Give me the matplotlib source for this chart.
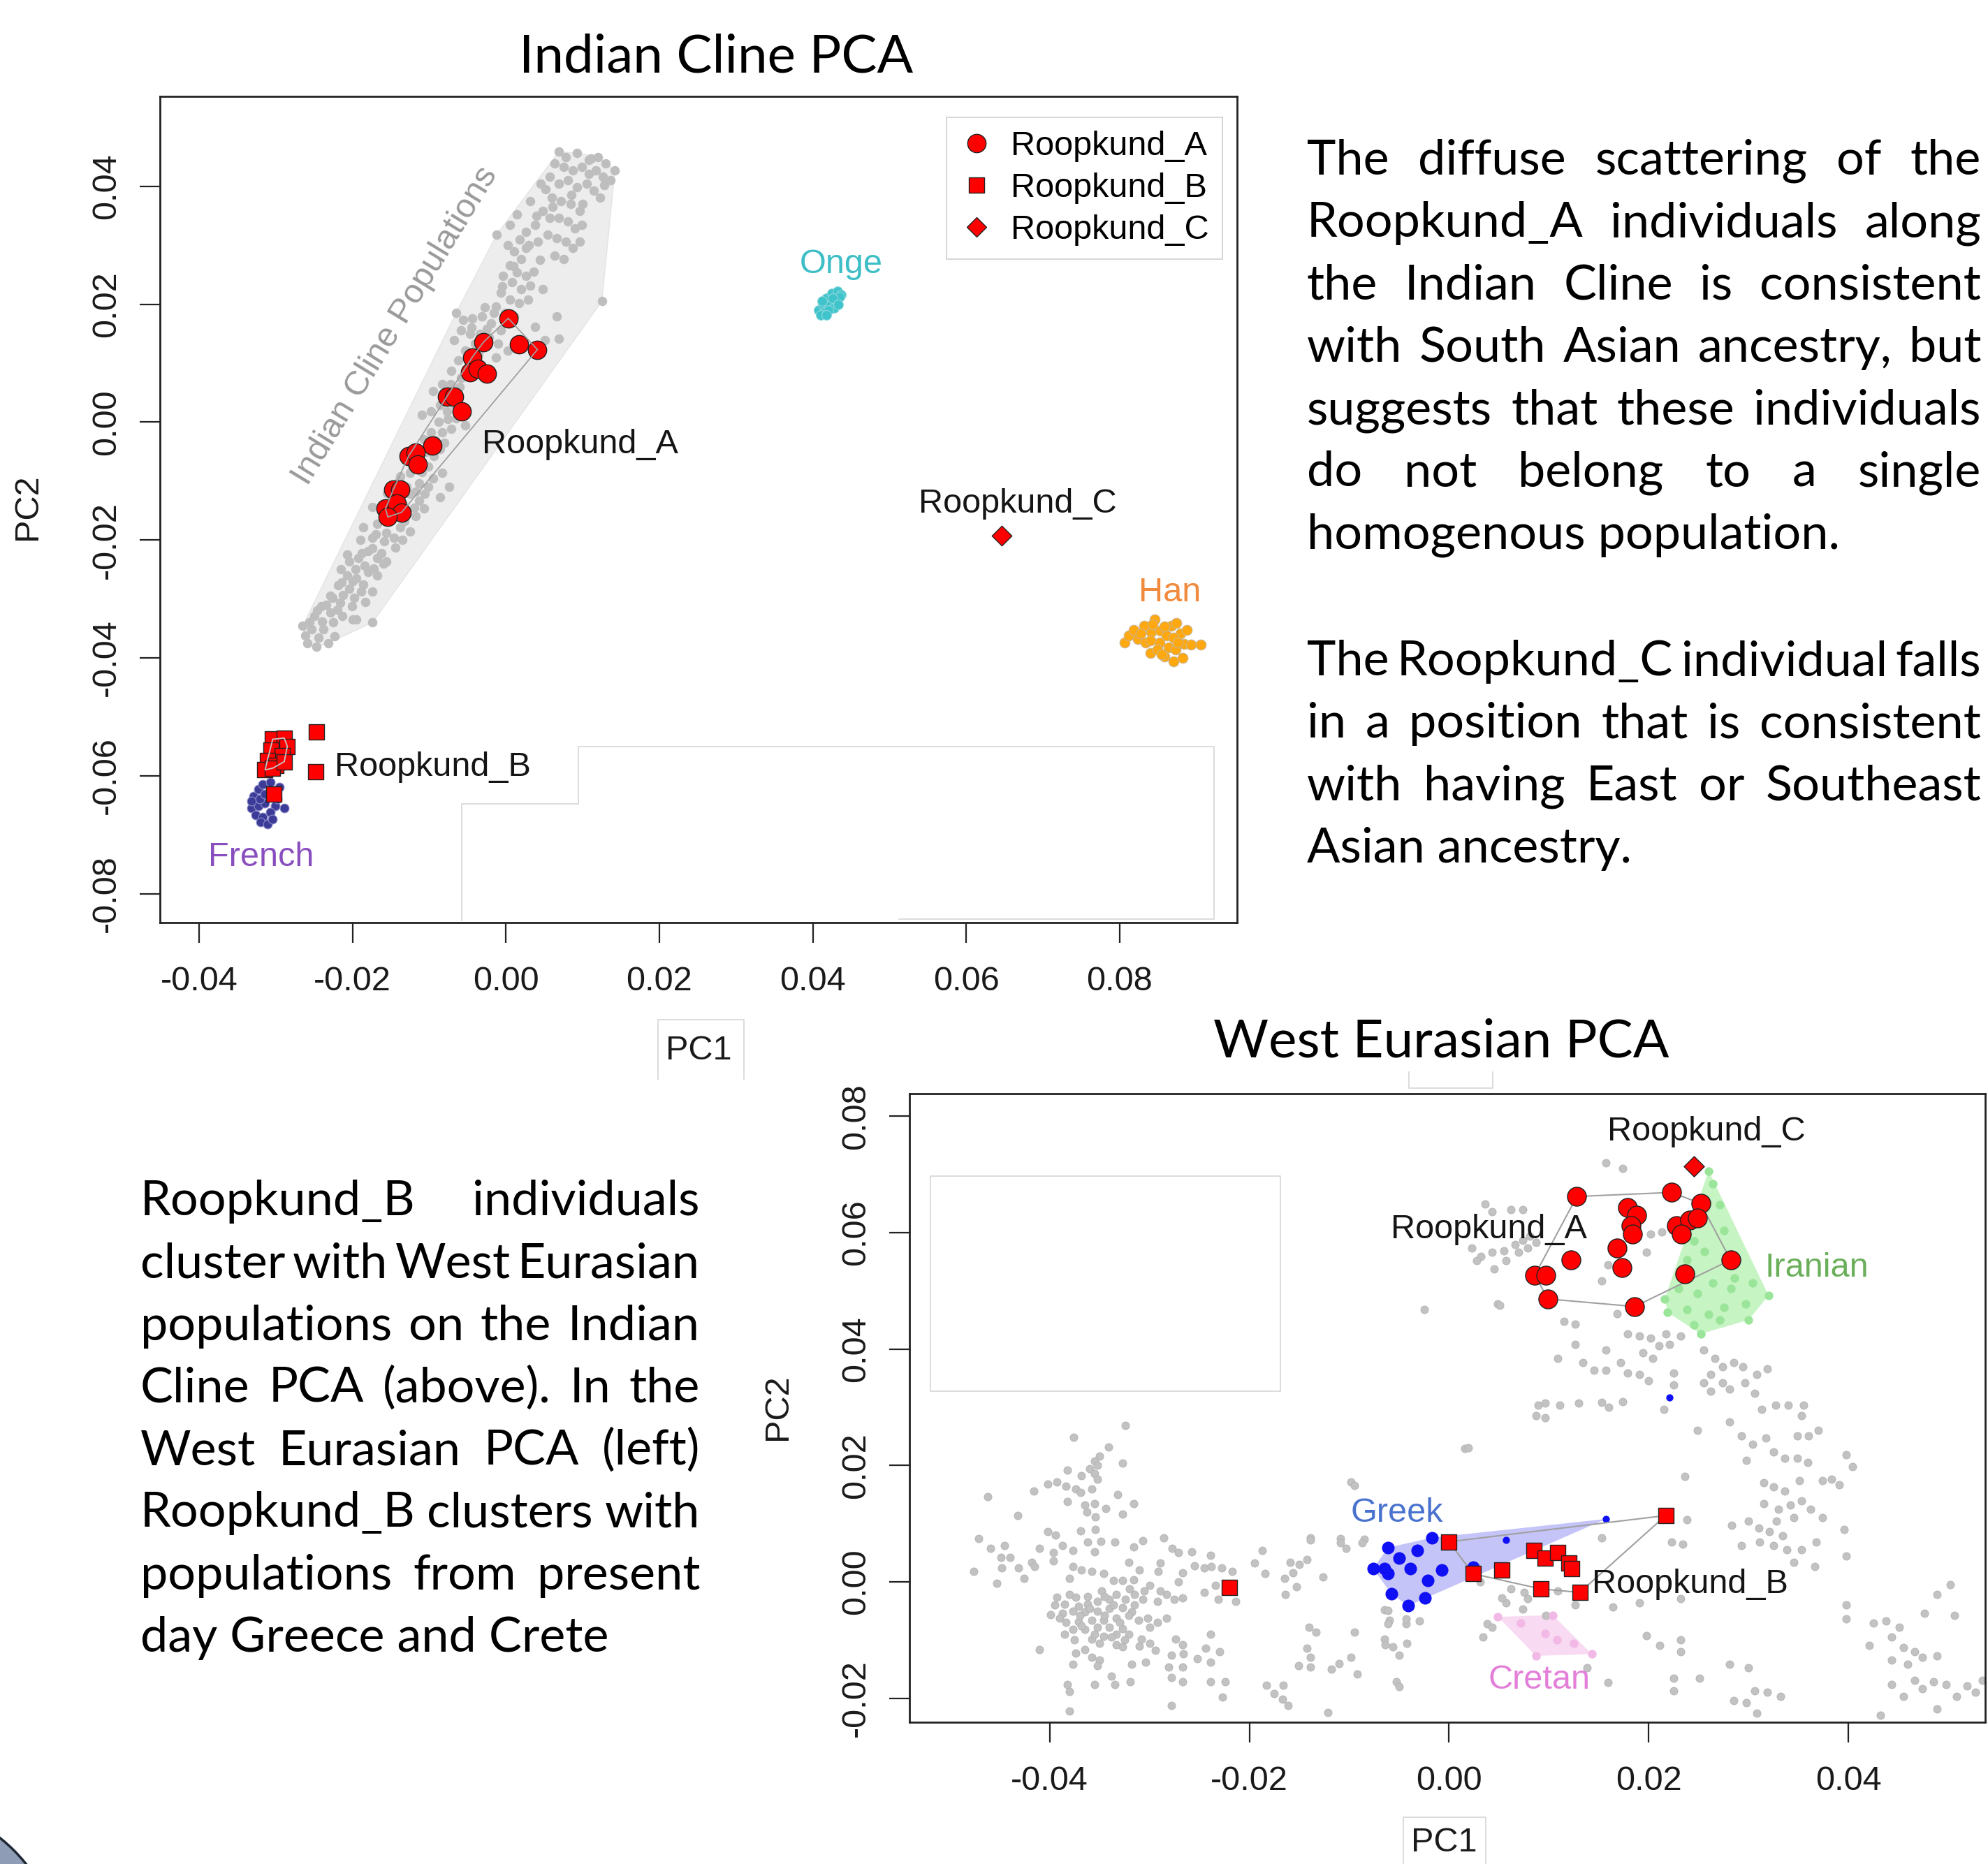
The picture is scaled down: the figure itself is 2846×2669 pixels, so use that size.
import matplotlib
matplotlib.use("Agg")
import matplotlib.pyplot as plt
import numpy as np
from matplotlib.lines import Line2D
from matplotlib.patches import Polygon, Ellipse

W, H = 2846, 2669
plt.rcParams["axes.unicode_minus"] = False
plt.rcParams["font.family"] = ["Liberation Sans", "DejaVu Sans"]
BODY_FONT = ["Lato", "DejaVu Sans"]

# ---------------- Indian Cline PCA ----------------
ic_xticks = [-0.04, -0.02, 0.00, 0.02, 0.04, 0.06, 0.08]
ic_yticks = [-0.08, -0.06, -0.04, -0.02, 0.00, 0.02, 0.04]

ic_gray = [
    (0.0069, 0.0459), (0.0078, 0.0450), (0.0093, 0.0456), (0.0111, 0.0447), (0.0120, 0.0450),
    (0.0130, 0.0439), (0.0142, 0.0427), (0.0063, 0.0439), (0.0075, 0.0433), (0.0087, 0.0427),
    (0.0099, 0.0433), (0.0108, 0.0421), (0.0117, 0.0427), (0.0126, 0.0416), (0.0136, 0.0410),
    (0.0057, 0.0416), (0.0069, 0.0404), (0.0081, 0.0410), (0.0093, 0.0398), (0.0105, 0.0404),
    (0.0114, 0.0393), (0.0123, 0.0381), (0.0045, 0.0404), (0.0060, 0.0381), (0.0072, 0.0375),
    (0.0084, 0.0370), (0.0096, 0.0358), (0.0048, 0.0358), (0.0057, 0.0346), (0.0069, 0.0346),
    (0.0081, 0.0341), (0.0090, 0.0329), (0.0099, 0.0335), (0.0032, 0.0375), (0.0038, 0.0335),
    (0.0026, 0.0323), (0.0042, 0.0306), (0.0054, 0.0318), (0.0066, 0.0312), (0.0078, 0.0306),
    (0.0087, 0.0295), (0.0096, 0.0306), (0.0063, 0.0283), (0.0075, 0.0277), (0.0005, 0.0335),
    (-0.0012, 0.0318), (0.0014, 0.0352), (0.0125, 0.0205),
    (0.0002, 0.0300), (0.0011, 0.0289), (0.0020, 0.0277), (0.0026, 0.0295), (0.0005, 0.0266),
    (0.0014, 0.0254), (0.0026, 0.0248), (-0.0004, 0.0248), (0.0008, 0.0237), (0.0020, 0.0225),
    (0.0032, 0.0231), (0.0048, 0.0225), (-0.0007, 0.0220), (0.0005, 0.0208), (0.0017, 0.0202),
    (0.0029, 0.0208), (-0.0013, 0.0196), (-0.0001, 0.0185), (0.0011, 0.0179), (-0.0065, 0.0185),
    (-0.0056, 0.0173), (-0.0044, 0.0176), (-0.0031, 0.0179), (-0.0019, 0.0168), (-0.0007, 0.0156),
    (-0.0059, 0.0156), (-0.0047, 0.0150), (-0.0034, 0.0150), (-0.0022, 0.0144), (-0.0010, 0.0133),
    (-0.0068, 0.0139), (-0.0053, 0.0121), (-0.0040, 0.0133), (0.0038, 0.0162), (0.0066, 0.0179),
    (0.0069, 0.0142), (0.0051, 0.0139), (0.0002, 0.0121), (-0.0013, 0.0110),
    (-0.0071, 0.0087), (-0.0059, 0.0075), (-0.0083, 0.0064), (-0.0095, 0.0052), (-0.0086, 0.0029),
    (-0.0077, 0.0018), (-0.0065, 0.0006), (-0.0053, -0.0006), (-0.0071, -0.0011), (-0.0098, 0.0018),
    (-0.0110, 0.0012), (-0.0083, -0.0017), (-0.0098, -0.0017), (-0.0107, -0.0029), (-0.0086, -0.0046),
    (-0.0113, -0.0063), (-0.0101, -0.0075), (-0.0083, -0.0086), (-0.0125, -0.0086), (-0.0113, -0.0104),
    (-0.0101, -0.0110), (-0.0138, -0.0092), (-0.0125, -0.0121), (-0.0113, -0.0133), (-0.0074, -0.0110),
    (-0.0086, -0.0127), (-0.0107, -0.0147),
    (-0.0150, -0.0167), (-0.0138, -0.0179), (-0.0125, -0.0185), (-0.0168, -0.0173), (-0.0186, -0.0179),
    (-0.0174, -0.0196), (-0.0159, -0.0202), (-0.0144, -0.0213), (-0.0180, -0.0219), (-0.0168, -0.0231),
    (-0.0156, -0.0236), (-0.0192, -0.0231), (-0.0204, -0.0236), (-0.0180, -0.0254), (-0.0168, -0.0260),
    (-0.0195, -0.0265), (-0.0207, -0.0260), (-0.0219, -0.0277), (-0.0204, -0.0283), (-0.0189, -0.0288),
    (-0.0174, -0.0288), (-0.0229, -0.0294), (-0.0216, -0.0306), (-0.0201, -0.0312), (-0.0241, -0.0312),
    (-0.0229, -0.0323), (-0.0213, -0.0329), (-0.0195, -0.0335), (-0.0174, -0.0340), (-0.0250, -0.0329),
    (-0.0265, -0.0346), (-0.0253, -0.0352), (-0.0238, -0.0352), (-0.0223, -0.0363), (-0.0259, -0.0375),
    (-0.0247, -0.0381), (-0.0232, -0.0375), (-0.0207, -0.0225), (-0.0174, -0.0144),
    (-0.0262, -0.0362), (-0.0244, -0.0366), (-0.0256, -0.0340), (-0.0240, -0.0338), (-0.0225, -0.0340),
    (-0.0246, -0.0320), (-0.0234, -0.0310), (-0.0220, -0.0318), (-0.0226, -0.0298), (-0.0212, -0.0293),
    (-0.0198, -0.0298), (-0.0214, -0.0272), (-0.0200, -0.0270), (-0.0186, -0.0276), (-0.0196, -0.0250),
    (-0.0184, -0.0244), (-0.0172, -0.0248), (-0.0188, -0.0222), (-0.0174, -0.0214), (-0.0162, -0.0222),
    (-0.0170, -0.0190), (-0.0156, -0.0188), (-0.0146, -0.0196), (-0.0160, -0.0165), (-0.0145, -0.0160),
    (-0.0132, -0.0168), (-0.0148, -0.0135), (-0.0134, -0.0140), (-0.0120, -0.0145), (-0.0130, -0.0110),
    (-0.0118, -0.0118), (-0.0106, -0.0122), (-0.0122, -0.0075), (-0.0110, -0.0085), (-0.0095, -0.0095),
    (-0.0104, -0.0050), (-0.0094, -0.0058), (-0.0092, -0.0030), (-0.0080, -0.0035), (-0.0088, 0.0000),
    (-0.0076, 0.0005), (-0.0080, 0.0040), (-0.0068, 0.0030), (-0.0072, 0.0065), (-0.0060, 0.0060),
    (-0.0048, 0.0095), (-0.0062, 0.0105), (-0.0050, 0.0120), (-0.0036, 0.0115), (-0.0045, 0.0160),
    (-0.0025, 0.0158), (-0.0016, 0.0185), (-0.0028, 0.0195), (-0.0005, 0.0230), (0.0010, 0.0265),
    (0.0018, 0.0310), (0.0030, 0.0300), (0.0040, 0.0350), (0.0052, 0.0395), (0.0061, 0.0365),
    (0.0085, 0.0385), (0.0100, 0.0370), (0.0108, 0.0445), (0.0128, 0.0402), (0.0044, 0.0275),
    (0.0036, 0.0255), (-0.0140, -0.0100), (-0.0155, -0.0120), (-0.0190, -0.0200), (-0.0215, -0.0250),
    (-0.0200, -0.0335), (-0.0183, -0.0305), (-0.0160, -0.0240), (-0.0135, -0.0200), (-0.0118, -0.0160),
]

ic_rkA = [
    (0.0003, 0.0176), (-0.0029, 0.0136), (0.0017, 0.0132), (0.0041, 0.0123), (-0.0044, 0.0110),
    (-0.0047, 0.0084), (-0.0037, 0.0090), (-0.0025, 0.0082), (-0.0077, 0.0043), (-0.0068, 0.0043),
    (-0.0058, 0.0018), (-0.0096, -0.0040), (-0.0127, -0.0058), (-0.0118, -0.0052), (-0.0115, -0.0072),
    (-0.0147, -0.0115), (-0.0138, -0.0115), (-0.0157, -0.0147), (-0.0142, -0.0138), (-0.0136, -0.0153),
    (-0.0154, -0.0161),
]
ic_rkB_core = [
    (-0.0304, -0.0538), (-0.0289, -0.0536), (-0.0285, -0.0550), (-0.0306, -0.0556), (-0.0292, -0.0566),
    (-0.0311, -0.0574), (-0.0300, -0.0582), (-0.0314, -0.0590), (-0.0304, -0.0587), (-0.0289, -0.0576),
]
ic_rkB_out = [(-0.0247, -0.0526), (-0.0248, -0.0593), (-0.0303, -0.0631)]
ic_rkC = [(0.0646, -0.0193)]

ic_onge = [
    (0.0408, 0.0190), (0.0413, 0.0200), (0.0418, 0.0210), (0.0425, 0.0218), (0.0432, 0.0222),
    (0.0437, 0.0216), (0.0430, 0.0205), (0.0422, 0.0198), (0.0415, 0.0186), (0.0428, 0.0193),
    (0.0410, 0.0182), (0.0435, 0.0212), (0.0420, 0.0190), (0.0426, 0.0210), (0.0412, 0.0205),
    (0.0433, 0.0200), (0.0418, 0.0182),
]
ic_han = [
    (0.0806, -0.0374), (0.0812, -0.0362), (0.0818, -0.0353), (0.0824, -0.0368), (0.0832, -0.0345),
    (0.0841, -0.0356), (0.0846, -0.0335), (0.0853, -0.0354), (0.0843, -0.0343), (0.0852, -0.0374),
    (0.0861, -0.0362), (0.0867, -0.0345), (0.0874, -0.0341), (0.0879, -0.0358), (0.0887, -0.0353),
    (0.0884, -0.0376), (0.0893, -0.0378), (0.0906, -0.0378), (0.0840, -0.0392), (0.0858, -0.0398),
    (0.0870, -0.0406), (0.0882, -0.0400), (0.0834, -0.0374), (0.0864, -0.0382), (0.0873, -0.0386),
    (0.0849, -0.0386), (0.0827, -0.0358), (0.0858, -0.0347), (0.0840, -0.0370), (0.0870, -0.0366),
    (0.0876, -0.0374), (0.0855, -0.0394),
]
ic_french = [
    (-0.0329, -0.0635), (-0.0323, -0.0623), (-0.0317, -0.0615), (-0.0307, -0.0611), (-0.0295, -0.0619),
    (-0.0332, -0.0655), (-0.0323, -0.0651), (-0.0314, -0.0647), (-0.0301, -0.0651), (-0.0289, -0.0655),
    (-0.0326, -0.0667), (-0.0317, -0.0670), (-0.0307, -0.0662), (-0.0320, -0.0678), (-0.0311, -0.0682),
    (-0.0304, -0.0674), (-0.0332, -0.0643), (-0.0321, -0.0639), (-0.0298, -0.0639), (-0.0314, -0.0631),
]

# ---------------- West Eurasian PCA ----------------
we_xticks = [-0.04, -0.02, 0.00, 0.02, 0.04]
we_yticks = [-0.02, 0.00, 0.02, 0.04, 0.06, 0.08]

we_gray = [
    (-0.0324, 0.0269), (-0.0376, 0.0248), (-0.0341, 0.0232), (-0.0350, 0.0216), (-0.0355, 0.0208),
    (-0.0327, 0.0204), (-0.0352, 0.0200), (-0.0360, 0.0194), (-0.0382, 0.0192), (-0.0355, 0.0186),
    (-0.0368, 0.0182), (-0.0352, 0.0176), (-0.0402, 0.0168), (-0.0393, 0.0172), (-0.0384, 0.0164),
    (-0.0374, 0.0160), (-0.0369, 0.0154), (-0.0358, 0.0160), (-0.0416, 0.0156), (-0.0332, 0.0150),
    (-0.0462, 0.0146), (-0.0382, 0.0138), (-0.0365, 0.0132), (-0.0355, 0.0134), (-0.0344, 0.0126),
    (-0.0316, 0.0134), (-0.0363, 0.0120), (-0.0354, 0.0112), (-0.0327, 0.0116), (-0.0432, 0.0114),
    (-0.0471, 0.0074), (-0.0402, 0.0087), (-0.0394, 0.0080), (-0.0369, 0.0088), (-0.0354, 0.0090),
    (-0.0349, 0.0070), (-0.0362, 0.0068), (-0.0335, 0.0068), (-0.0307, 0.0071), (-0.0286, 0.0076),
    (-0.0459, 0.0058), (-0.0445, 0.0062), (-0.0449, 0.0042), (-0.0440, 0.0042), (-0.0410, 0.0058),
    (-0.0396, 0.0050), (-0.0387, 0.0062), (-0.0377, 0.0054), (-0.0355, 0.0052), (-0.0316, 0.0060),
    (-0.0277, 0.0058), (-0.0271, 0.0050), (-0.0258, 0.0052), (-0.0239, 0.0046), (-0.0187, 0.0054),
    (-0.0139, 0.0076), (-0.0109, 0.0074), (-0.0085, 0.0073), (-0.0103, 0.0058), (-0.0098, 0.0172),
    (-0.0476, 0.0018), (-0.0448, 0.0024), (-0.0431, 0.0024), (-0.0418, 0.0034), (-0.0415, 0.0026),
    (-0.0426, 0.0006), (-0.0453, -0.0002), (-0.0396, 0.0036), (-0.0377, 0.0026), (-0.0380, 0.0006),
    (-0.0368, 0.0020), (-0.0358, 0.0018), (-0.0346, 0.0014), (-0.0336, 0.0002), (-0.0327, 0.0002),
    (-0.0321, 0.0034), (-0.0310, 0.0020), (-0.0316, 0.0004), (-0.0289, 0.0032), (-0.0291, 0.0018),
    (-0.0267, 0.0016), (-0.0271, 0.0000), (-0.0255, 0.0028), (-0.0245, 0.0024), (-0.0238, 0.0026),
    (-0.0228, 0.0024), (-0.0217, 0.0018), (-0.0234, -0.0006), (-0.0195, 0.0032), (-0.0184, 0.0014),
    (-0.0159, 0.0034), (-0.0150, 0.0030), (-0.0142, 0.0038), (-0.0165, 0.0006), (-0.0156, 0.0016),
    (-0.0126, 0.0008), (-0.0153, -0.0008), (-0.0164, -0.0022),
    (-0.0393, -0.0026), (-0.0380, -0.0022), (-0.0374, -0.0026), (-0.0385, -0.0038), (-0.0371, -0.0042),
    (-0.0362, -0.0038), (-0.0352, -0.0034), (-0.0340, -0.0030), (-0.0333, -0.0022), (-0.0324, -0.0030),
    (-0.0315, -0.0022), (-0.0305, -0.0016), (-0.0300, -0.0006), (-0.0289, -0.0016), (-0.0283, -0.0022),
    (-0.0275, -0.0030), (-0.0267, -0.0028), (-0.0292, -0.0034), (-0.0307, -0.0030), (-0.0245, -0.0018),
    (-0.0231, -0.0030), (-0.0214, -0.0034),
    (-0.0399, -0.0056), (-0.0387, -0.0054), (-0.0377, -0.0050), (-0.0365, -0.0052), (-0.0352, -0.0050),
    (-0.0340, -0.0046), (-0.0327, -0.0044), (-0.0318, -0.0052), (-0.0384, -0.0070), (-0.0371, -0.0068),
    (-0.0358, -0.0066), (-0.0346, -0.0066), (-0.0333, -0.0062), (-0.0321, -0.0058), (-0.0311, -0.0066),
    (-0.0302, -0.0062), (-0.0292, -0.0070), (-0.0283, -0.0062), (-0.0377, -0.0082), (-0.0365, -0.0082),
    (-0.0352, -0.0078), (-0.0340, -0.0078), (-0.0327, -0.0080), (-0.0385, -0.0090), (-0.0358, -0.0098),
    (-0.0346, -0.0094), (-0.0333, -0.0090), (-0.0321, -0.0090), (-0.0308, -0.0098), (-0.0300, -0.0106),
    (-0.0294, -0.0118), (-0.0333, -0.0108), (-0.0327, -0.0112),
    (-0.0360, -0.0045), (-0.0345, -0.0058), (-0.0330, -0.0070), (-0.0315, -0.0040), (-0.0370, -0.0058),
    (-0.0355, -0.0090), (-0.0338, -0.0095), (-0.0362, -0.0025), (-0.0348, -0.0015), (-0.0320, -0.0012),
    (-0.0395, -0.0040), (-0.0300, -0.0078), (-0.0368, -0.0075), (-0.0336, -0.0040), (-0.0350, -0.0105),
    (-0.0375, -0.0100), (-0.0310, -0.0110), (-0.0390, -0.0062), (-0.0345, -0.0025), (-0.0325, -0.0100),
    (-0.0410, -0.0116), (-0.0374, -0.0122), (-0.0365, -0.0116), (-0.0358, -0.0130), (-0.0377, -0.0142),
    (-0.0350, -0.0134), (-0.0352, -0.0144), (-0.0318, -0.0142), (-0.0304, -0.0138), (-0.0274, -0.0098),
    (-0.0267, -0.0108), (-0.0266, -0.0124), (-0.0278, -0.0126), (-0.0281, -0.0146), (-0.0267, -0.0146),
    (-0.0239, -0.0090), (-0.0244, -0.0114), (-0.0230, -0.0120), (-0.0252, -0.0132), (-0.0239, -0.0138),
    (-0.0140, -0.0078), (-0.0133, -0.0086), (-0.0095, -0.0086), (-0.0142, -0.0114), (-0.0139, -0.0130),
    (-0.0151, -0.0144), (-0.0139, -0.0146), (-0.0118, -0.0150), (-0.0110, -0.0140), (-0.0098, -0.0130),
    (-0.0092, -0.0158), (-0.0065, -0.0048), (-0.0060, -0.0066), (-0.0065, -0.0098), (-0.0056, -0.0112),
    (-0.0382, -0.0176), (-0.0380, -0.0188), (-0.0355, -0.0176), (-0.0338, -0.0162), (-0.0335, -0.0176),
    (-0.0319, -0.0172), (-0.0278, -0.0164), (-0.0267, -0.0172), (-0.0239, -0.0172), (-0.0224, -0.0172),
    (-0.0227, -0.0198), (-0.0183, -0.0178), (-0.0166, -0.0178), (-0.0175, -0.0192), (-0.0167, -0.0202),
    (-0.0161, -0.0212), (-0.0278, -0.0212), (-0.0380, -0.0222), (-0.0121, -0.0224), (-0.0053, -0.0172),
    (-0.0139, 0.0072), (-0.0109, 0.0067), (-0.0095, 0.0166), (-0.0087, 0.0067), (-0.0061, -0.0049),
    (-0.0061, -0.0072), (-0.0043, -0.0072), (-0.0064, -0.0108), (-0.0050, -0.0126), (-0.0050, -0.0180),
    (0.0016, 0.0229), (0.0038, -0.0072), (0.0057, -0.0036), (0.0049, 0.0477), (0.0097, -0.0058),
    (0.0031, 0.0000), (0.0053, -0.0027), (0.0075, -0.0018),
    (0.0157, 0.0720), (0.0174, 0.0710), (0.0036, 0.0649), (0.0043, 0.0636), (0.0062, 0.0639),
    (0.0074, 0.0639), (0.0023, 0.0573), (0.0032, 0.0559), (0.0043, 0.0566), (0.0055, 0.0569),
    (0.0066, 0.0580), (0.0074, 0.0587), (0.0081, 0.0594), (0.0070, 0.0566), (0.0045, 0.0538),
    (0.0057, 0.0552), (0.0028, 0.0552), (0.0079, 0.0573), (0.0087, 0.0583), (0.0198, 0.0566),
    (0.0202, 0.0597), (0.0213, 0.0601), (0.0153, 0.0517), (0.0159, 0.0545), (-0.0025, 0.0468),
    (0.0051, 0.0475), (0.0168, 0.0461), (0.0115, 0.0447), (0.0126, 0.0443), (0.0179, 0.0426),
    (0.0191, 0.0422), (0.0202, 0.0419), (0.0217, 0.0426), (0.0232, 0.0422), (0.0126, 0.0408),
    (0.0157, 0.0398), (0.0194, 0.0394), (0.0210, 0.0405), (0.0221, 0.0408), (0.0109, 0.0384),
    (0.0134, 0.0377), (0.0145, 0.0363), (0.0157, 0.0363), (0.0172, 0.0377), (0.0179, 0.0359),
    (0.0191, 0.0356), (0.0200, 0.0345), (0.0204, 0.0384), (0.0225, 0.0359), (0.0225, 0.0338),
    (0.0255, 0.0398), (0.0266, 0.0384), (0.0274, 0.0370), (0.0285, 0.0377), (0.0294, 0.0370),
    (0.0262, 0.0356), (0.0255, 0.0342), (0.0274, 0.0342), (0.0281, 0.0331), (0.0262, 0.0328),
    (0.0296, 0.0342), (0.0308, 0.0356), (0.0319, 0.0366), (0.0306, 0.0324), (0.0089, 0.0303),
    (0.0096, 0.0307), (0.0111, 0.0303), (0.0130, 0.0307), (0.0153, 0.0308), (0.0160, 0.0300),
    (0.0174, 0.0310), (0.0215, 0.0296), (0.0087, 0.0286), (0.0096, 0.0282), (0.0019, 0.0230),
    (0.0249, 0.0261), (0.0281, 0.0275), (0.0293, 0.0251), (0.0304, 0.0237), (0.0317, 0.0247),
    (0.0313, 0.0296), (0.0327, 0.0303), (0.0340, 0.0303), (0.0355, 0.0303), (0.0353, 0.0286),
    (0.0349, 0.0251), (0.0360, 0.0251), (0.0370, 0.0261), (0.0298, 0.0209), (0.0325, 0.0223),
    (0.0336, 0.0212), (0.0349, 0.0212), (0.0359, 0.0205), (0.0398, 0.0219), (0.0404, 0.0198),
    (0.0236, 0.0181), (0.0315, 0.0170), (0.0325, 0.0163), (0.0336, 0.0156), (0.0351, 0.0174),
    (0.0374, 0.0174), (0.0383, 0.0177), (0.0391, 0.0167), (0.0315, 0.0135), (0.0330, 0.0125),
    (0.0342, 0.0132), (0.0353, 0.0139), (0.0362, 0.0125), (0.0374, 0.0111), (0.0345, 0.0111),
    (0.0328, 0.0104), (0.0300, 0.0104), (0.0310, 0.0093), (0.0321, 0.0086), (0.0334, 0.0079),
    (0.0283, 0.0097), (0.0293, 0.0062), (0.0311, 0.0069), (0.0325, 0.0062), (0.0338, 0.0055),
    (0.0353, 0.0055), (0.0368, 0.0069), (0.0345, 0.0034), (0.0398, 0.0044), (0.0396, 0.0090),
    (0.0366, 0.0027), (0.0238, 0.0107), (0.0223, 0.0069), (0.0234, 0.0065), (0.0153, 0.0076),
    (0.0164, -0.0043), (0.0191, -0.0036), (0.0232, -0.0029), (0.0398, -0.0039), (0.0398, -0.0064),
    (0.0425, -0.0071), (0.0438, -0.0067), (0.0451, -0.0078), (0.0443, -0.0095), (0.0455, -0.0113),
    (0.0466, -0.0120), (0.0443, -0.0134), (0.0459, -0.0141), (0.0474, -0.0130), (0.0489, -0.0127),
    (0.0421, -0.0109), (0.0443, -0.0176), (0.0466, -0.0169), (0.0474, -0.0183), (0.0485, -0.0172),
    (0.0498, -0.0176), (0.0489, -0.0022), (0.0502, -0.0005), (0.0476, -0.0054), (0.0506, -0.0057),
    (0.0519, -0.0179), (0.0534, -0.0169), (0.0527, -0.0190), (0.0508, -0.0197), (0.0489, -0.0218),
    (0.0455, -0.0197), (0.0432, -0.0229), (0.0198, -0.0092), (0.0211, -0.0109), (0.0232, -0.0099),
    (0.0232, -0.0120), (0.0281, -0.0141), (0.0300, -0.0148), (0.0225, -0.0166), (0.0251, -0.0166),
    (0.0225, -0.0187), (0.0306, -0.0187), (0.0319, -0.0190), (0.0332, -0.0197), (0.0285, -0.0204),
    (0.0298, -0.0208), (0.0308, -0.0225), (-0.0043, -0.0064), (-0.0030, -0.0067), (-0.0042, -0.0106),
    (0.0043, -0.0078), (0.0034, -0.0095), (0.0074, -0.0047), (0.0159, -0.0173), (0.0138, -0.0148),
    (0.0126, -0.0040), (0.0062, -0.0012), (0.0079, -0.0029), (0.0109, -0.0015),
]

we_rkA = [
    (0.0128, 0.0662), (0.0223, 0.0669), (0.0179, 0.0643), (0.0188, 0.0630), (0.0252, 0.0650),
    (0.0228, 0.0612), (0.0241, 0.0621), (0.0249, 0.0625), (0.0233, 0.0598), (0.0182, 0.0612),
    (0.0184, 0.0598), (0.0168, 0.0574), (0.0282, 0.0553), (0.0122, 0.0553), (0.0086, 0.0527),
    (0.0097, 0.0527), (0.0173, 0.0540), (0.0236, 0.0529), (0.0099, 0.0486), (0.0186, 0.0473),
]
we_rkB = [
    (0.0000, 0.0069), (0.0024, 0.0014), (0.0053, 0.0020), (0.0085, 0.0054), (0.0096, 0.0041),
    (0.0109, 0.0050), (0.0120, 0.0032), (0.0123, 0.0023), (0.0092, -0.0012), (0.0131, -0.0018),
    (0.0217, 0.0114),
]
we_rkB_out = [(-0.0220, -0.0010)]
we_rkC = [(0.0245, 0.0714)]

we_iranian = [
    (0.0260, 0.0706), (0.0264, 0.0684), (0.0271, 0.0648), (0.0275, 0.0603), (0.0245, 0.0585),
    (0.0256, 0.0567), (0.0238, 0.0553), (0.0286, 0.0522), (0.0304, 0.0513), (0.0320, 0.0492),
    (0.0297, 0.0477), (0.0275, 0.0472), (0.0260, 0.0459), (0.0238, 0.0468), (0.0219, 0.0463),
    (0.0245, 0.0441), (0.0252, 0.0426), (0.0271, 0.0450), (0.0300, 0.0450), (0.0282, 0.0504),
    (0.0264, 0.0513), (0.0230, 0.0504), (0.0216, 0.0486), (0.0249, 0.0495),
]
we_greek = [
    (-0.0076, 0.0023), (-0.0061, 0.0059), (-0.0050, 0.0041), (-0.0032, 0.0054), (-0.0017, 0.0076),
    (-0.0065, 0.0023), (-0.0039, 0.0023), (-0.0007, 0.0020), (-0.0061, 0.0014), (-0.0021, 0.0002),
    (-0.0058, -0.0020), (-0.0024, -0.0027), (-0.0041, -0.0041), (0.0024, 0.0025),
]
we_greek_small = [(0.0057, 0.0072), (0.0157, 0.0108), (0.0221, 0.0317)]
we_cretan = [
    (0.0049, -0.0060), (0.0104, -0.0057), (0.0143, -0.0124), (0.0087, -0.0127),
    (0.0072, -0.0071), (0.0125, -0.0106), (0.0096, -0.0089), (0.0108, -0.0099),
]

text_top = [
    ["The diffuse scattering of the",
     "Roopkund_A individuals along",
     "the Indian Cline is consistent",
     "with South Asian ancestry, but",
     "suggests that these individuals",
     "do not belong to a single",
     "homogenous population."],
    ["The Roopkund_C individual falls",
     "in a position that is consistent",
     "with having East or Southeast",
     "Asian ancestry."],
]
text_bottom = [
    "Roopkund_B individuals",
    "cluster with West Eurasian",
    "populations on the Indian",
    "Cline PCA (above). In the",
    "West Eurasian PCA (left)",
    "Roopkund_B clusters with",
    "populations from present",
    "day Greece and Crete",
]


def hull(points):
    pts = sorted(set(points))
    if len(pts) < 3:
        return pts

    def cross(o, a, b):
        return (a[0] - o[0]) * (b[1] - o[1]) - (a[1] - o[1]) * (b[0] - o[0])

    lower, upper = [], []
    for p in pts:
        while len(lower) >= 2 and cross(lower[-2], lower[-1], p) <= 0:
            lower.pop()
        lower.append(p)
    for p in reversed(pts):
        while len(upper) >= 2 and cross(upper[-2], upper[-1], p) <= 0:
            upper.pop()
        upper.append(p)
    return lower[:-1] + upper[:-1]


def xy(points):
    a = np.array(points)
    return a[:, 0], a[:, 1]


def fig_line(fig, xs, ys, color="#D9D9D9"):
    fig.add_artist(Line2D(np.array(xs) / W, 1 - np.array(ys) / H, color=color, lw=1.3))


def style_axes(ax, xticks, yticks):
    for sp in ax.spines.values():
        sp.set_linewidth(2.0)
        sp.set_color("#222222")
    ax.set_xticks(xticks)
    ax.set_xticklabels([f"{v:.2f}" for v in xticks])
    ax.set_yticks(yticks)
    ax.set_yticklabels([f"{v:.2f}" for v in yticks], rotation=90, va="center")
    ax.tick_params(direction="out", length=21, width=1.6, color="#222222",
                   labelsize=35, labelcolor="#1a1a1a")
    ax.tick_params(axis="x", pad=24)
    ax.tick_params(axis="y", pad=18)


fig = plt.figure(figsize=(W / 100, H / 100), dpi=100, facecolor="white")
rend = fig.canvas.get_renderer()

# ---- top panel ----
ax1 = fig.add_axes([229 / W, 1 - 1321 / H, (1771 - 229) / W, (1321 - 137.6) / H])
ax1.set_xlim(-0.0451, 0.0953)
ax1.set_ylim(-0.0849, 0.0553)
style_axes(ax1, ic_xticks, ic_yticks)

ax1.add_patch(Polygon(hull(ic_gray), closed=True, fc="#EDEDED", ec="#E4E4E4", lw=1, zorder=1))
gx, gy = xy(ic_gray)
ax1.scatter(gx, gy, s=95, c="#BEBEBE", linewidths=0, zorder=2)

ox, oy = xy(ic_onge)
ax1.scatter(ox, oy, s=100, c="#3FC4CB", edgecolors="#8FD8DC", linewidths=0.8, zorder=3)
hx, hy = xy(ic_han)
ax1.scatter(hx, hy, s=110, c="#FFA80F", edgecolors="#C9B48E", linewidths=0.8, zorder=3)
fx, fy = xy(ic_french)
ax1.scatter(fx, fy, s=85, c="#3C3C98", edgecolors="#8A8AC8", linewidths=0.8, zorder=3)

ax_, ay_ = xy(ic_rkA)
ax1.scatter(ax_, ay_, s=360, marker="o", c="#FF0000", edgecolors="#222222", linewidths=1.0, zorder=5)
ax1.add_patch(Polygon(hull(ic_rkA), closed=True, fill=False, ec="#A0A0A0", lw=1.3, zorder=6))
bx, by = xy(ic_rkB_core + ic_rkB_out)
ax1.scatter(bx, by, s=260, marker="s", c="#FF0000", edgecolors="#222222", linewidths=1.0, zorder=5)
ax1.add_patch(Polygon(hull(ic_rkB_core), closed=True, fill=False, ec="#C8C8C8", lw=1.3, zorder=6))
cx, cy = xy(ic_rkC)
ax1.scatter(cx, cy, s=210, marker="D", c="#FF0000", edgecolors="#222222", linewidths=1.0, zorder=5)

ax1.text(-0.0144, 0.0163, "Indian Cline Populations", rotation=58.7, rotation_mode="anchor",
         ha="center", va="center", fontsize=35, color="#9A9A9A", zorder=7)
ax1.text(-0.0031, -0.0053, "Roopkund_A", fontsize=35, ha="left", va="baseline", color="#151515", zorder=7)
ax1.text(-0.0223, -0.0600, "Roopkund_B", fontsize=35, ha="left", va="baseline", color="#151515", zorder=7)
ax1.text(0.0667, -0.0153, "Roopkund_C", fontsize=35, ha="center", va="baseline", color="#151515", zorder=7)
ax1.text(0.0437, 0.0253, "Onge", fontsize=35, ha="center", va="baseline", color="#3DBEC7", zorder=7)
ax1.text(0.0865, -0.0304, "Han", fontsize=35, ha="center", va="baseline", color="#F08A3C", zorder=7)
ax1.text(-0.0319, -0.0753, "French", fontsize=35, ha="center", va="baseline", color="#8A4FBE", zorder=7)

handles = [
    Line2D([], [], ls="none", marker="o", ms=19, mfc="#FF0000", mec="#222222", mew=1.0),
    Line2D([], [], ls="none", marker="s", ms=16, mfc="#FF0000", mec="#222222", mew=1.0),
    Line2D([], [], ls="none", marker="D", ms=14, mfc="#FF0000", mec="#222222", mew=1.0),
]
leg = ax1.legend(handles, ["Roopkund_A", "Roopkund_B", "Roopkund_C"], loc="upper right",
                 bbox_to_anchor=(1750 / W, 1 - 168 / H), bbox_transform=fig.transFigure,
                 borderaxespad=0, fancybox=False, fontsize=35, handlelength=1.0,
                 handletextpad=0.5, labelspacing=0.3, borderpad=0.4, edgecolor="#D0D0D0",
                 framealpha=1)
leg.get_frame().set_linewidth(1.2)
leg.set_zorder(8)

# ---- bottom panel ----
ax2 = fig.add_axes([1302 / W, 1 - 2465.5 / H, (2842 - 1302) / W, (2465.5 - 1566) / H])
ax2.set_xlim(-0.05404, 0.0537)
ax2.set_ylim(-0.02404, 0.08386)
style_axes(ax2, we_xticks, we_yticks)

wx, wy = xy(we_gray)
ax2.scatter(wx, wy, s=64, c="#C2C2C2", edgecolors="#B3B3B3", linewidths=0.6, zorder=2)

ax2.add_patch(Polygon(hull(we_greek + we_greek_small[:2]), closed=True, fc="#C4C4F8", ec="none", zorder=1.5))
ax2.add_patch(Polygon(hull(we_iranian), closed=True, fc="#C6F4C2", ec="none", zorder=1.5))
ax2.add_patch(Polygon(hull(we_cretan[:4]), closed=True, fc="#F9DAF3", ec="none", zorder=1.5))

ix, iy = xy(we_iranian)
ax2.scatter(ix, iy, s=80, c="#9BE59B", linewidths=0, zorder=3)
ktx, kty = xy(we_cretan)
ax2.scatter(ktx, kty, s=80, c="#F2B8E6", linewidths=0, zorder=3)
grx, gry = xy(we_greek)
ax2.scatter(grx, gry, s=170, c="#1010F5", linewidths=0, zorder=3)
gsx, gsy = xy(we_greek_small)
ax2.scatter(gsx, gsy, s=55, c="#1010F5", linewidths=0, zorder=3)

wax, way = xy(we_rkA)
ax2.scatter(wax, way, s=380, marker="o", c="#FF0000", edgecolors="#222222", linewidths=1.0, zorder=5)
ax2.add_patch(Polygon(hull(we_rkA), closed=True, fill=False, ec="#A0A0A0", lw=1.5, zorder=4))
wbx, wby = xy(we_rkB + we_rkB_out)
ax2.scatter(wbx, wby, s=260, marker="s", c="#FF0000", edgecolors="#222222", linewidths=1.0, zorder=5)
ax2.add_patch(Polygon(hull(we_rkB), closed=True, fill=False, ec="#A0A0A0", lw=1.5, zorder=4))
wcx, wcy = xy(we_rkC)
ax2.scatter(wcx, wcy, s=220, marker="D", c="#FF0000", edgecolors="#222222", linewidths=1.0, zorder=5)

ax2.text(0.0258, 0.0758, "Roopkund_C", fontsize=35, ha="center", va="baseline", color="#151515", zorder=7)
ax2.text(0.0138, 0.0590, "Roopkund_A", fontsize=35, ha="right", va="baseline", color="#151515", zorder=7)
ax2.text(0.0316, 0.0524, "Iranian", fontsize=35, ha="left", va="baseline", color="#6BAF5B", zorder=7)
ax2.text(0.0143, -0.0019, "Roopkund_B", fontsize=35, ha="left", va="baseline", color="#151515", zorder=7)
ax2.text(0.0090, -0.0183, "Cretan", fontsize=35, ha="center", va="baseline", color="#E37FD8", zorder=7)
ax2.text(-0.0052, 0.0103, "Greek", fontsize=35, ha="center", va="baseline", color="#4A73CF", zorder=7)

# ---- axis labels ----
fig.text(1000 / W, 1 - 1517 / H, "PC1", fontsize=35, ha="center", va="baseline", color="#1a1a1a")
fig.text(40 / W, 1 - 726 / H, "PC2", fontsize=35, rotation=90, ha="center", va="center", color="#1a1a1a")
fig.text(2067 / W, 1 - 2651 / H, "PC1", fontsize=35, ha="center", va="baseline", color="#1a1a1a")
fig.text(1114 / W, 1 - 2015 / H, "PC2", fontsize=35, rotation=90, ha="center", va="center", color="#1a1a1a")

# leftover frames from the slide composition
fig_line(fig, [661, 661, 828, 828, 1738, 1738, 1287], [1318, 1151, 1151, 1069, 1069, 1316, 1316])
fig_line(fig, [942, 942, 1065, 1065], [1545, 1460, 1460, 1545])
fig_line(fig, [2009, 2009, 2127, 2127], [2669, 2602, 2602, 2669])
fig_line(fig, [2017, 2017, 2137, 2137], [1535, 1558, 1558, 1535])
fig_line(fig, [1332, 1833, 1833, 1332, 1332], [1684, 1684, 1992, 1992, 1684])

fig.add_artist(Ellipse((-150 / W, 1 - 2819 / H), 480 / W, 480 / H, transform=fig.transFigure,
                       fc="#8E9DB5", ec="#1E2633", lw=2.5))

# ---- titles and body text ----
def fit_size(text, width, probe=50):
    t = fig.text(0, 0, text, fontsize=probe, family=BODY_FONT)
    w = t.get_window_extent(rend).width
    t.remove()
    return probe * width / w


title_size = fit_size("Indian Cline PCA", 564)
fig.text(1025 / W, 1 - 104 / H, "Indian Cline PCA", fontsize=title_size, family=BODY_FONT,
         ha="center", va="baseline")
fig.text(2063 / W, 1 - 1514 / H, "West Eurasian PCA", fontsize=title_size, family=BODY_FONT,
         ha="center", va="baseline")

body_size = fit_size("homogenous population.", 761)


def justified(lines, x0, x1, base0, step):
    for i, line in enumerate(lines):
        yb = 1 - (base0 + i * step) / H
        words = line.split()
        if i == len(lines) - 1:
            fig.text(x0 / W, yb, line, fontsize=body_size, family=BODY_FONT, ha="left", va="baseline")
            continue
        arts = [fig.text(0, yb, w, fontsize=body_size, family=BODY_FONT, ha="left", va="baseline")
                for w in words]
        widths = [a.get_window_extent(rend).width for a in arts]
        gap = (x1 - x0 - sum(widths)) / (len(words) - 1)
        x = x0
        for a, wd in zip(arts, widths):
            a.set_x(x / W)
            x += wd + gap


justified(text_top[0], 1871, 2836, 250, 89.3)
justified(text_top[1], 1871, 2836, 967, 89.3)
justified(text_bottom, 201, 1002, 1740, 89.3)

fig.savefig("out.png", dpi=100, facecolor="white")
